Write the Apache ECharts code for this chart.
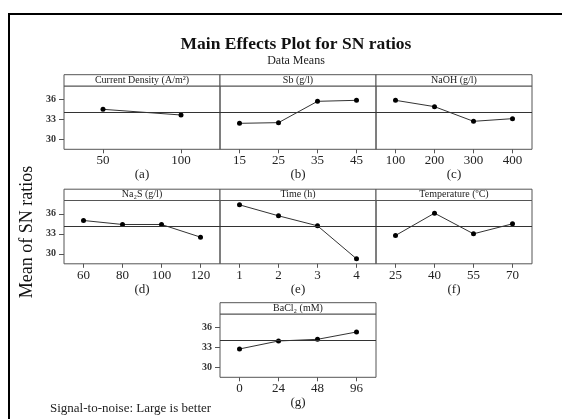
<!DOCTYPE html>
<html>
<head>
<meta charset="utf-8">
<script src="https://cdn.jsdelivr.net/npm/echarts@6/dist/echarts.min.js"></script>
<style>
  html, body { margin: 0; padding: 0; background: #fff; }
  #chart { width: 562px; height: 419px; }
</style>
</head>
<body>
<div id="chart"></div>
<script>
// Factor levels and mean SN ratios (dB) per level
const currentDensityLevels = ['50', '100'];
const currentDensitySN = [34.5, 33.65];

const sbLevels = ['15', '25', '35', '45'];
const sbSN = [32.4, 32.5, 35.7, 35.85];

const naohLevels = ['100', '200', '300', '400'];
const naohSN = [35.85, 34.9, 32.7, 33.1];

const na2sLevels = ['60', '80', '100', '120'];
const na2sSN = [35.0, 34.4, 34.4, 32.5];

const timeLevels = ['1', '2', '3', '4'];
const timeSN = [37.35, 35.7, 34.2, 29.25];

const temperatureLevels = ['25', '40', '55', '70'];
const temperatureSN = [32.75, 36.1, 33.0, 34.5];

const bacl2Levels = ['0', '24', '48', '96'];
const bacl2SN = [32.75, 33.95, 34.2, 35.3];

// Overall mean of the SN ratios (reference line)
const grandMean = 34.1;

// Y-axis tick labels
const yTicks = [30, 33, 36];

const panelTitles = ['Current Density (A/m²)', 'Sb (g/l)', 'NaOH (g/l)', 'Na₂S (g/l)', 'Time (h)', 'Temperature (ºC)', 'BaCl₂ (mM)'];
const panelLetters = ['(a)', '(b)', '(c)', '(d)', '(e)', '(f)', '(g)'];
const panelLevels = [currentDensityLevels, sbLevels, naohLevels, na2sLevels, timeLevels, temperatureLevels, bacl2Levels];
const panelValues = [currentDensitySN, sbSN, naohSN, na2sSN, timeSN, temperatureSN, bacl2SN];

// Panel layout: column / row slot of each panel
const panelCol = [0, 1, 2, 0, 1, 2, 1];
const panelRow = [0, 0, 0, 1, 1, 1, 2];
const colLeft = [64, 220, 376];
const rowTop = [86, 200.5, 314];
const panelW = 156;
const plotH = 63.3;
const headH = 11.3;

const serif = '"Liberation Serif", "Times New Roman", serif';
const ink = '#222';
const frameCol = '#555';

const grids = [], xAxes = [], yAxes = [], series = [], graphics = [];

panelTitles.forEach((title, i) => {
  const left = colLeft[panelCol[i]];
  const top = rowTop[panelRow[i]];
  const showY = panelCol[i] === 0 || i === 6;

  grids.push({
    left: left, top: top, width: panelW, height: plotH,
    show: true, borderColor: frameCol, borderWidth: 1, backgroundColor: 'transparent'
  });

  xAxes.push({
    type: 'category', gridIndex: i, data: panelLevels[i], boundaryGap: true,
    axisLine: { show: false },
    axisTick: { show: true, alignWithLabel: true, length: 4, lineStyle: { color: frameCol } },
    axisLabel: { fontFamily: serif, fontSize: 13, color: ink, margin: 5 },
    splitLine: { show: false },
    name: panelLetters[i], nameLocation: 'middle', nameGap: 18,
    nameTextStyle: { fontFamily: serif, fontSize: 13, color: ink }
  });

  yAxes.push({
    type: 'value', gridIndex: i, min: 28.5, max: 38,
    axisLine: { show: false },
    axisTick: { show: showY, length: 5, customValues: yTicks, lineStyle: { color: frameCol } },
    axisLabel: { show: showY, customValues: yTicks, fontFamily: serif, fontSize: 10, fontWeight: 'bold', color: '#333', margin: 8 },
    splitLine: { show: false }
  });

  series.push({
    type: 'line', xAxisIndex: i, yAxisIndex: i, data: panelValues[i],
    symbol: 'circle', symbolSize: 5, showSymbol: true,
    lineStyle: { color: '#333', width: 1 },
    itemStyle: { color: '#000' },
    animation: false, silent: true,
    markLine: {
      silent: true, symbol: 'none', label: { show: false },
      lineStyle: { color: '#333', width: 1, type: 'solid' },
      data: [{ yAxis: grandMean }]
    }
  });

  // header strip with the factor name
  graphics.push({
    type: 'rect', shape: { x: left, y: top - headH, width: panelW, height: headH },
    style: { fill: '#fff', stroke: frameCol, lineWidth: 1 }, silent: true
  });
  graphics.push({
    type: 'text', x: left + panelW / 2, y: top - headH / 2,
    style: { text: title, fontFamily: serif, fontSize: 10, fill: ink, align: 'center', verticalAlign: 'middle' },
    silent: true
  });
});

// page frame
graphics.push({ type: 'line', shape: { x1: 8, y1: 14, x2: 562, y2: 14 }, style: { stroke: '#000', lineWidth: 2 }, silent: true });
graphics.push({ type: 'line', shape: { x1: 9, y1: 13, x2: 9, y2: 419 }, style: { stroke: '#000', lineWidth: 2 }, silent: true });

// titles and notes
graphics.push({ type: 'text', x: 296, y: 44, style: { text: 'Main Effects Plot for SN ratios', fontFamily: serif, fontSize: 17.5, fontWeight: 'bold', fill: '#111', align: 'center', verticalAlign: 'middle' }, silent: true });
graphics.push({ type: 'text', x: 296, y: 61, style: { text: 'Data Means', fontFamily: serif, fontSize: 12, fill: ink, align: 'center', verticalAlign: 'middle' }, silent: true });
graphics.push({ type: 'text', x: 27, y: 232, rotation: Math.PI / 2, style: { text: 'Mean of SN ratios', fontFamily: serif, fontSize: 18, fill: '#111', align: 'center', verticalAlign: 'middle' }, silent: true });
graphics.push({ type: 'text', x: 50, y: 409, style: { text: 'Signal-to-noise: Large is better', fontFamily: serif, fontSize: 13, fill: ink, align: 'left', verticalAlign: 'middle' }, silent: true });

const chart = echarts.init(document.getElementById('chart'), null, { renderer: 'canvas' });
chart.setOption({
  backgroundColor: '#fff',
  animation: false,
  grid: grids,
  xAxis: xAxes,
  yAxis: yAxes,
  series: series,
  graphic: graphics
});
</script>
</body>
</html>
